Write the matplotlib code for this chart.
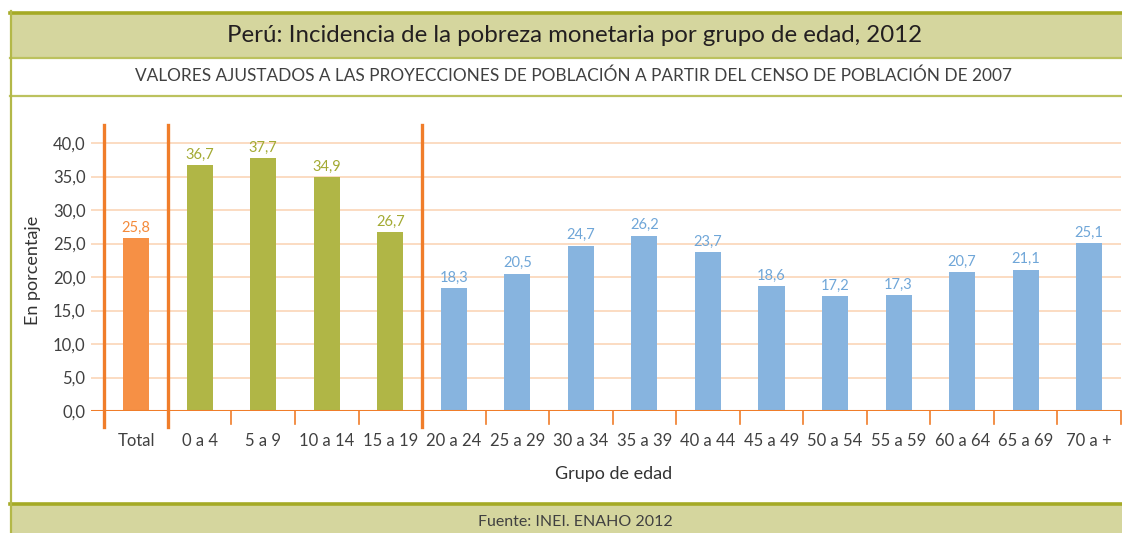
import matplotlib
matplotlib.use("Agg")
import matplotlib.pyplot as plt
from matplotlib.patches import Rectangle
from matplotlib.lines import Line2D

categories = ["Total", "0 a 4", "5 a 9", "10 a 14", "15 a 19", "20 a 24", "25 a 29",
              "30 a 34", "35 a 39", "40 a 44", "45 a 49", "50 a 54", "55 a 59",
              "60 a 64", "65 a 69", "70 a +"]
values = [25.8, 36.7, 37.7, 34.9, 26.7, 18.3, 20.5, 24.7, 26.2, 23.7, 18.6,
          17.2, 17.3, 20.7, 21.1, 25.1]
groups = ["total", "child", "child", "child", "child"] + ["adult"] * 11
yticks = [0, 5, 10, 15, 20, 25, 30, 35, 40]
ytick_labels = ["0,0", "5,0", "10,0", "15,0", "20,0", "25,0", "30,0", "35,0", "40,0"]

title = "Perú: Incidencia de la pobreza monetaria por grupo de edad, 2012"
subtitle = "VALORES AJUSTADOS A LAS PROYECCIONES DE POBLACIÓN A PARTIR DEL CENSO DE POBLACIÓN DE 2007"
source = "Fuente: INEI. ENAHO 2012"

plt.rcParams['font.family'] = ['Lato', 'DejaVu Sans']

W, H = 1122, 533
fig = plt.figure(figsize=(W / 100, H / 100), dpi=100)

def fx(px):
    return px / W

def fy(py):
    return 1 - py / H

band = "#D5D69E"
olive_dark = "#A5AA25"
olive_light = "#BCC25E"

# title band
fig.patches.append(Rectangle((fx(10), fy(58)), fx(W) - fx(10), fy(14) - fy(58),
                             transform=fig.transFigure, facecolor=band, edgecolor="none", zorder=0))
fig.lines.append(Line2D([fx(10), 1], [fy(12.5), fy(12.5)], transform=fig.transFigure, color=olive_dark, lw=2.6))
fig.lines.append(Line2D([fx(10), 1], [fy(58), fy(58)], transform=fig.transFigure, color=olive_light, lw=1.6))
fig.lines.append(Line2D([fx(10), 1], [fy(95.5), fy(95.5)], transform=fig.transFigure, color=olive_light, lw=1.6))
# footer band
fig.patches.append(Rectangle((fx(10), 0), fx(W) - fx(10), fy(505),
                             transform=fig.transFigure, facecolor=band, edgecolor="none", zorder=0))
fig.lines.append(Line2D([fx(10), 1], [fy(503.5), fy(503.5)], transform=fig.transFigure, color=olive_dark, lw=2.6))
# left border
fig.lines.append(Line2D([fx(11), fx(11)], [0, fy(11)], transform=fig.transFigure, color="#B3B848", lw=1.6))

fig.text(fx(575), fy(36), title, ha="center", va="center", fontsize=17.3, color="#231F20")
fig.text(fx(573), fy(76), subtitle, ha="center", va="center", fontsize=12.4, color="#404040")
fig.text(fx(575), fy(522), source, ha="center", va="center", fontsize=11.5, color="#404040")

ax = fig.add_axes([fx(91), fy(411), fx(1121) - fx(91), fy(125) - fy(411)])
ax.set_xlim(-0.71, 15.5)
ax.set_ylim(0, 42.7)

colors = {"total": "#F69045", "child": "#B0B646", "adult": "#87B4DF"}
lcolors = {"total": "#F48A3A", "child": "#A3AA33", "adult": "#6FA6D8"}
x = list(range(len(categories)))
ax.bar(x, values, width=0.41, color=[colors[g] for g in groups], zorder=3)
for xi, v, g in zip(x, values, groups):
    ax.text(xi, v + 0.5, f"{v:.1f}".replace(".", ","), ha="center", va="bottom",
            fontsize=10.5, color=lcolors[g], zorder=4)

for yv in yticks:
    ax.axhline(yv, color="#FBD6B8", lw=1.2, zorder=1)
ax.axhline(0, color="#F07D2A", lw=2.2, zorder=5)

for s in ax.spines.values():
    s.set_visible(False)

ax.set_yticks(yticks)
ax.set_yticklabels(ytick_labels)
ax.tick_params(axis="y", length=0, pad=4, labelsize=12, labelcolor="#404040")
ax.set_xticks(x)
ax.set_xticklabels(categories)
ax.tick_params(axis="x", length=0, pad=16, labelsize=12, labelcolor="#404040")

# separators and tick marks
for b in [i + 0.5 for i in range(len(categories))]:
    if b in (0.5, 4.5):
        continue
    ax.plot([b, b], [0, -2.0], color="#F07D2A", lw=1.2, clip_on=False, zorder=5)
for b in (-0.5, 0.5, 4.5):
    ax.plot([b, b], [-2.4, 42.7], color="#F07D2A", lw=2.4, clip_on=False, zorder=5)

fig.text(fx(33), fy(270), "En porcentaje", rotation=90, ha="center", va="center",
         fontsize=13, color="#333333")
fig.text(fx(614), fy(474), "Grupo de edad", ha="center", va="center",
         fontsize=13, color="#333333")

fig.savefig("out.png", dpi=100)
